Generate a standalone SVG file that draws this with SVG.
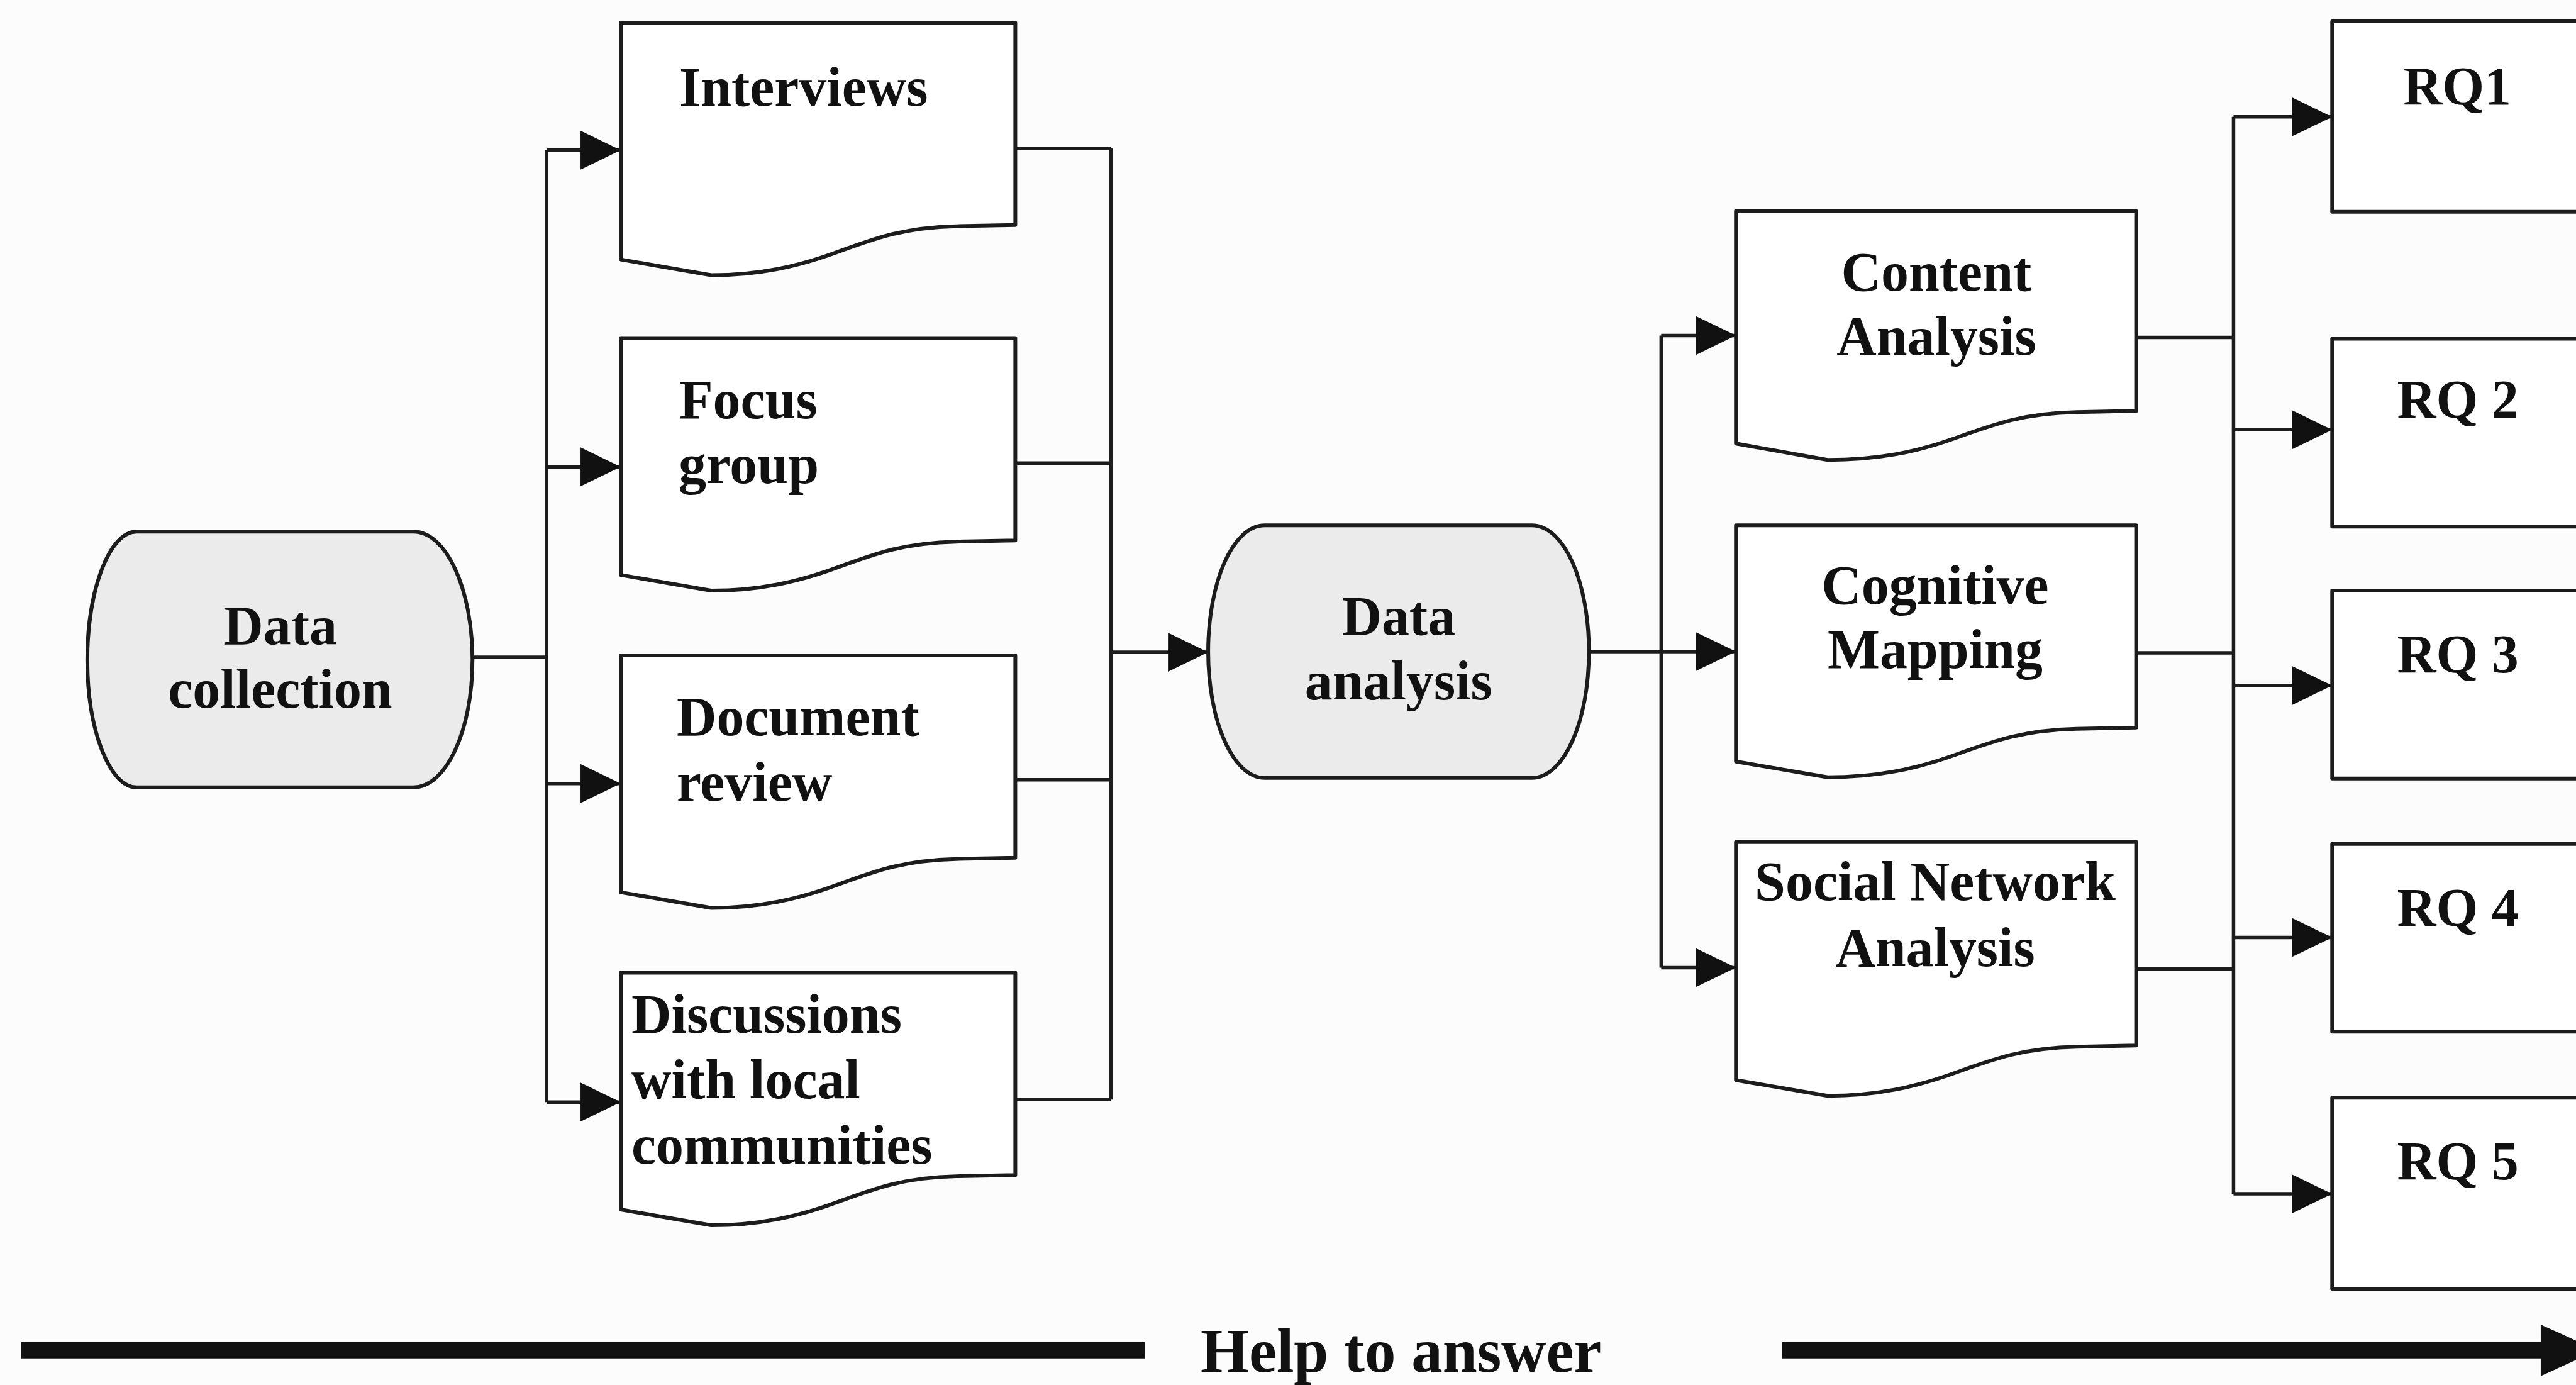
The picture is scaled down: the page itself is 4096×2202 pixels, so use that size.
<svg xmlns="http://www.w3.org/2000/svg" width="4096" height="2202" viewBox="0 0 4096 2202">
  <style>
    .shape { fill: #ffffff; stroke: #1c1c1c; stroke-width: 6; stroke-linejoin: round; }
    .term { fill: #ebebeb; stroke: #1c1c1c; stroke-width: 6; }
    .wire { fill: none; stroke: #1c1c1c; stroke-width: 5.5; }
    .lbl { font-family: "Liberation Serif", "Times New Roman", serif; font-weight: bold; font-size: 88px; fill: #111111; }
    .mid { text-anchor: middle; }
    .rq { font-size: 86px; }
    .big { font-size: 99px; }
  </style>
  <defs>
    <marker id="arrow" viewBox="0 0 64 62" refX="64" refY="31" markerWidth="64" markerHeight="62" markerUnits="userSpaceOnUse" orient="auto">
      <path d="M0,0 L64,31 L0,62 Z" fill="#111111"/>
    </marker>
  </defs>

  <rect x="0" y="0" width="4096" height="2202" fill="#fcfcfc"/>

  <g transform="scale(0.999)">
    <!-- connectors -->
    <g id="connectors">
      <!-- data collection fan-out -->
      <path class="wire" d="M752,1046 H870"/>
      <path class="wire" d="M870,239 V1754"/>
      <path class="wire" d="M870,239 H988" marker-end="url(#arrow)"/>
      <path class="wire" d="M870,743 H988" marker-end="url(#arrow)"/>
      <path class="wire" d="M870,1247 H988" marker-end="url(#arrow)"/>
      <path class="wire" d="M870,1754 H988" marker-end="url(#arrow)"/>
      <!-- sources merge into data analysis -->
      <path class="wire" d="M1616,236 H1768"/>
      <path class="wire" d="M1616,737 H1768"/>
      <path class="wire" d="M1616,1241 H1768"/>
      <path class="wire" d="M1616,1750 H1768"/>
      <path class="wire" d="M1768,236 V1750"/>
      <path class="wire" d="M1768,1038 H1923" marker-end="url(#arrow)"/>
      <!-- data analysis fan-out -->
      <path class="wire" d="M2529,1037 H2763" marker-end="url(#arrow)"/>
      <path class="wire" d="M2644,534 V1540"/>
      <path class="wire" d="M2644,534 H2763" marker-end="url(#arrow)"/>
      <path class="wire" d="M2644,1540 H2763" marker-end="url(#arrow)"/>
      <!-- analyses feed the research questions -->
      <path class="wire" d="M3400,537 H3555"/>
      <path class="wire" d="M3400,1039 H3555"/>
      <path class="wire" d="M3400,1542 H3555"/>
      <path class="wire" d="M3555,186 V1900"/>
      <path class="wire" d="M3555,186 H3712" marker-end="url(#arrow)"/>
      <path class="wire" d="M3555,684 H3712" marker-end="url(#arrow)"/>
      <path class="wire" d="M3555,1091 H3712" marker-end="url(#arrow)"/>
      <path class="wire" d="M3555,1492 H3712" marker-end="url(#arrow)"/>
      <path class="wire" d="M3555,1900 H3712" marker-end="url(#arrow)"/>
    </g>

    <!-- terminators -->
    <g id="data-collection">
      <path class="term" d="M217,846 L658,846 C710,846 752,937 752,1050 C752,1163 710,1253 658,1253 L217,1253 C175,1253 139,1163 139,1050 C139,937 175,846 217,846 Z"/>
      <text class="lbl mid" x="446" y="1025">Data</text>
      <text class="lbl mid" x="446" y="1126">collection</text>
    </g>

    <g id="data-analysis">
      <path class="term" d="M2013,836 L2438,836 C2490,836 2529,927 2529,1037 C2529,1147 2490,1238 2438,1238 L2013,1238 C1962,1238 1923,1147 1923,1037 C1923,927 1962,836 2013,836 Z"/>
      <text class="lbl mid" x="2226" y="1010">Data</text>
      <text class="lbl mid" x="2226" y="1113">analysis</text>
    </g>

    <!-- data sources (document shapes, width 628) -->
    <g id="interviews" transform="translate(988,36)">
      <path class="shape" d="M0,0 H628 V322 L534,324 C452,326 408,342 345,365 C283,388 220,402 144,402 L0,377 Z"/>
      <text class="lbl" x="93" y="132">Interviews</text>
    </g>

    <g id="focus-group" transform="translate(988,538)">
      <path class="shape" d="M0,0 H628 V322 L534,324 C452,326 408,342 345,365 C283,388 220,402 144,402 L0,377 Z"/>
      <text class="lbl" x="93" y="128">Focus</text>
      <text class="lbl" x="92" y="231">group</text>
    </g>

    <g id="document-review" transform="translate(988,1043)">
      <path class="shape" d="M0,0 H628 V322 L534,324 C452,326 408,342 345,365 C283,388 220,402 144,402 L0,377 Z"/>
      <text class="lbl" x="89" y="127">Document</text>
      <text class="lbl" x="89" y="231">review</text>
    </g>

    <g id="discussions" transform="translate(988,1548)">
      <path class="shape" d="M0,0 H628 V322 L534,324 C452,326 408,342 345,365 C283,388 220,402 144,402 L0,377 Z"/>
      <text class="lbl" x="17" y="96">Discussions</text>
      <text class="lbl" x="17" y="200">with local</text>
      <text class="lbl" x="17" y="304">communities</text>
    </g>

    <!-- analysis methods (document shapes, width 637) -->
    <g id="content-analysis" transform="translate(2763,336)">
      <path class="shape" d="M0,0 H637 V318 L542,320 C459,322 414,338 350,361 C287,384 223,396 146,396 L0,370 Z"/>
      <text class="lbl mid" x="319" y="126">Content</text>
      <text class="lbl mid" x="319" y="229">Analysis</text>
    </g>

    <g id="cognitive-mapping" transform="translate(2763,836)">
      <path class="shape" d="M0,0 H637 V322 L542,324 C459,326 414,342 350,365 C287,388 223,401 146,401 L0,376 Z"/>
      <text class="lbl mid" x="317" y="125">Cognitive</text>
      <text class="lbl mid" x="317" y="227">Mapping</text>
    </g>

    <g id="social-network-analysis" transform="translate(2763,1340)">
      <path class="shape" d="M0,0 H637 V324 L542,326 C459,328 414,344 350,367 C287,390 223,404 146,404 L0,379 Z"/>
      <text class="lbl mid" x="317" y="92">Social Network</text>
      <text class="lbl mid" x="317" y="198">Analysis</text>
    </g>

    <!-- research questions -->
    <g id="rq1">
      <rect class="shape" x="3712" y="34" width="420" height="303"/>
      <text class="lbl rq mid" x="3911" y="166">RQ1</text>
    </g>
    <g id="rq2">
      <rect class="shape" x="3712" y="539" width="420" height="299"/>
      <text class="lbl rq mid" x="3912" y="665">RQ 2</text>
    </g>
    <g id="rq3">
      <rect class="shape" x="3712" y="940" width="420" height="299"/>
      <text class="lbl rq mid" x="3912" y="1070">RQ 3</text>
    </g>
    <g id="rq4">
      <rect class="shape" x="3712" y="1343" width="420" height="299"/>
      <text class="lbl rq mid" x="3912" y="1473">RQ 4</text>
    </g>
    <g id="rq5">
      <rect class="shape" x="3712" y="1747" width="420" height="304"/>
      <text class="lbl rq mid" x="3912" y="1877">RQ 5</text>
    </g>

    <!-- bottom banner arrow -->
    <g id="help-to-answer">
      <path d="M34,2149 H1822" stroke="#111111" stroke-width="26" fill="none"/>
      <path d="M2836,2149 H4050" stroke="#111111" stroke-width="26" fill="none"/>
      <path d="M4044,2108 L4134,2149 L4044,2190 Z" fill="#111111"/>
      <text class="lbl big" x="1911" y="2183">Help to answer</text>
    </g>
  </g>
</svg>
